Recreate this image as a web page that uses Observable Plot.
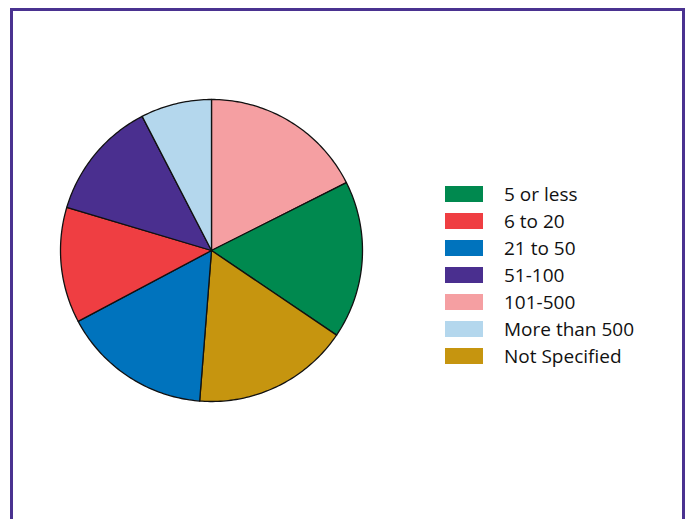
<!DOCTYPE html>
<html>
<head>
<meta charset="utf-8">
<script src="https://cdn.jsdelivr.net/npm/d3@7"></script>
<script src="https://cdn.jsdelivr.net/npm/@observablehq/plot@0.6"></script>
<style>
  html, body { margin: 0; padding: 0; background: #fff; }
  #wrap { position: relative; width: 688px; height: 519px; overflow: hidden; }
  #frame { position: absolute; left: 10px; top: 8px; width: 669px; height: 530px; border: 3px solid #4a3290; border-bottom: none; }
  #chart { position: absolute; left: 0; top: 0; }
  #legend { position: absolute; left: 445px; top: 180px; font-family: "Open Sans", sans-serif; font-size: 19px; color: #111; }
  .row { display: flex; align-items: center; height: 27px; }
  .sw { width: 38px; height: 16px; margin-right: 21px; }
</style>
</head>
<body>
<div id="wrap">
  <div id="frame"></div>
  <div id="chart"></div>
  <div id="legend"></div>
</div>
<script>
// Legend categories and colors
const categories = ["5 or less", "6 to 20", "21 to 50", "51-100", "101-500", "More than 500", "Not Specified"];
const colors = ["#00894f", "#ef3e42", "#0073bd", "#4a2f8f", "#f59fa2", "#b4d7ed", "#c6950f"];
// Estimated shares (%) in legend order
const values = [16.9, 12.4, 16.0, 12.8, 17.6, 7.6, 16.8];
// Clockwise drawing order starting at 12 o'clock
const pieOrder = ["101-500", "5 or less", "Not Specified", "21 to 50", "6 to 20", "51-100", "More than 500"];

const W = 688, H = 519, cx = 211, cy = 250, R = 151;

const slices = pieOrder.map(c => ({label: c, value: values[categories.indexOf(c)]}));
const arcs = d3.pie().sort(null).value(d => d.value)(slices);

const pts = [];
for (const a of arcs) {
  const lab = a.data.label;
  pts.push({label: lab, x: 0, y: 0});
  const n = Math.max(2, Math.ceil((a.endAngle - a.startAngle) / (Math.PI / 180)));
  for (let i = 0; i <= n; i++) {
    const t = a.startAngle + (a.endAngle - a.startAngle) * i / n;
    pts.push({label: lab, x: Math.sin(t), y: Math.cos(t)});
  }
  pts.push({label: lab, x: 0, y: 0});
}

const chart = Plot.plot({
  width: W, height: H,
  margin: 0,
  x: {domain: [-cx / R, (W - cx) / R], range: [0, W], axis: null},
  y: {domain: [(cy - H) / R, cy / R], range: [H, 0], axis: null},
  color: {domain: categories, range: colors},
  marks: [
    Plot.line(pts, {x: "x", y: "y", z: "label", fill: "label", stroke: "#111", strokeWidth: 1.3, strokeLinejoin: "round"})
  ]
});
document.getElementById("chart").appendChild(chart);

const legend = document.getElementById("legend");
categories.forEach((c, i) => {
  const row = document.createElement("div");
  row.className = "row";
  const sw = document.createElement("div");
  sw.className = "sw";
  sw.style.background = colors[i];
  const tx = document.createElement("span");
  tx.textContent = c;
  row.appendChild(sw); row.appendChild(tx);
  legend.appendChild(row);
});
</script>
</body>
</html>
